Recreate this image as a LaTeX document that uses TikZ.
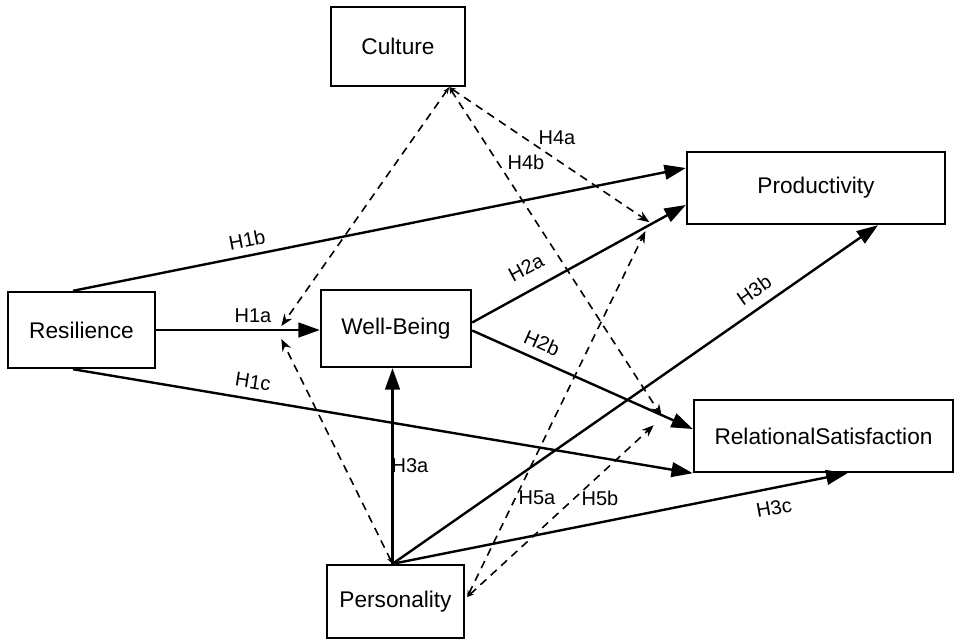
\documentclass[tikz,border=0pt]{standalone}
\usepackage{fontspec}
\setmainfont{Liberation Sans}
\usetikzlibrary{arrows.meta,calc}
\begin{document}
\begin{tikzpicture}[x=0.75pt,y=-0.75pt,
 box/.style={draw,line width=1.8pt,inner sep=0pt,font=\fontsize{17}{20}\selectfont},
 sarr/.style={line width=1.8pt,-{Triangle[length=16pt,width=11pt]}},
 darr/.style={line width=1.2pt,dash pattern=on 6pt off 4.5pt,{Stealth[length=5pt,width=4pt]}-{Stealth[length=9pt,width=7pt]}},
 lab/.style={font=\fontsize{15}{17}\selectfont,inner sep=1pt}]
\useasboundingbox[fill=white] (0,0) rectangle (955,640);
% boxes
\node[box,minimum width=100.5pt,minimum height=59.25pt] (cult) at (398,46.5) {Culture};
\node[box,minimum width=193.5pt,minimum height=54pt] (prod) at (816,188) {Productivity};
\node[box,minimum width=110.25pt,minimum height=57pt] (res) at (81.5,330) {Resilience};
\node[box,minimum width=112.5pt,minimum height=57.75pt] (wb) at (396,328.5) {Well-Being};
\node[box,minimum width=194.25pt,minimum height=54pt] (rs) at (823.5,436) {RelationalSatisfaction};
\node[box,minimum width=102.75pt,minimum height=54.75pt] (pers) at (395.5,601.5) {Personality};
% anchor points
\coordinate (pt) at ($(pers.north)+(-3,0)$);
\coordinate (ct) at ($(cult.south east)+(-17,0)$);
\coordinate (pr) at ($(pers.east)+(2,-4.5)$);
\coordinate (rtop) at ($(res.north)+(-8.5,0)$);
\coordinate (rbot) at ($(res.south)+(-8.5,0)$);
\coordinate (wa) at ($(wb.east)+(0,-6)$);
\coordinate (wc) at ($(wb.east)+(0,2)$);
\coordinate (pa) at ($(prod.west)+(0,17)$);
\coordinate (rb) at ($(rs.west)+(0,-7)$);
\coordinate (m1) at ($(res.east)!0.765!(res.east -| wb.west)$);
\coordinate (m2) at ($(wa)!0.82!(pa)$);
\coordinate (m3) at ($(wc)!0.85!(rb)$);
% solid paths
\draw[sarr] (rtop) -- ($(prod.west)+(0,-20)$);
\draw[sarr] (res.east) -- (res.east -| wb.west);
\draw[sarr] (rbot) -- (rs.south west);
\draw[sarr] (wa) -- (pa);
\draw[sarr] (wc) -- (rb);
\draw[sarr] (pt) -- (pt |- wb.south);
\draw[sarr] (pt) -- ($(prod.south)+(62,0)$);
\draw[sarr] (pt) -- ($(rs.south)+(24,0)$);
% dashed moderation paths
\draw[darr] (ct) -- ($(m1)+(0,-4)$);
\draw[darr] (ct) -- ($(m2)+(2,-4)$);
\draw[darr] (ct) -- ($(m3)+(2,2)$);
\draw[darr] (pt) -- ($(m1)+(0,9)$);
\draw[darr] (pr) -- ($(m2)+(-2,5)$);
\draw[darr] (pr) -- ($(m3)+(-6,11)$);
% labels
\node[lab,rotate=11] (l1b) at (247,240) {H1b};
\node[lab] (l1a) at (253,316) {H1a};
\node[lab,rotate=-9] (l1c) at (253,382) {H1c};
\node[lab,rotate=28] (l2a) at (526,268) {H2a};
\node[lab,rotate=-24] (l2b) at (542,343) {H2b};
\node[lab] (l3a) at (410,466) {H3a};
\node[lab,rotate=35] (l3b) at (754,290) {H3b};
\node[lab,rotate=10] (l3c) at (774,508) {H3c};
\node[lab] (l4a) at (557,138) {H4a};
\node[lab] (l4b) at (526,162) {H4b};
\node[lab] (l5a) at (537,498) {H5a};
\node[lab] (l5b) at (600,498) {H5b};
\end{tikzpicture}
\end{document}
